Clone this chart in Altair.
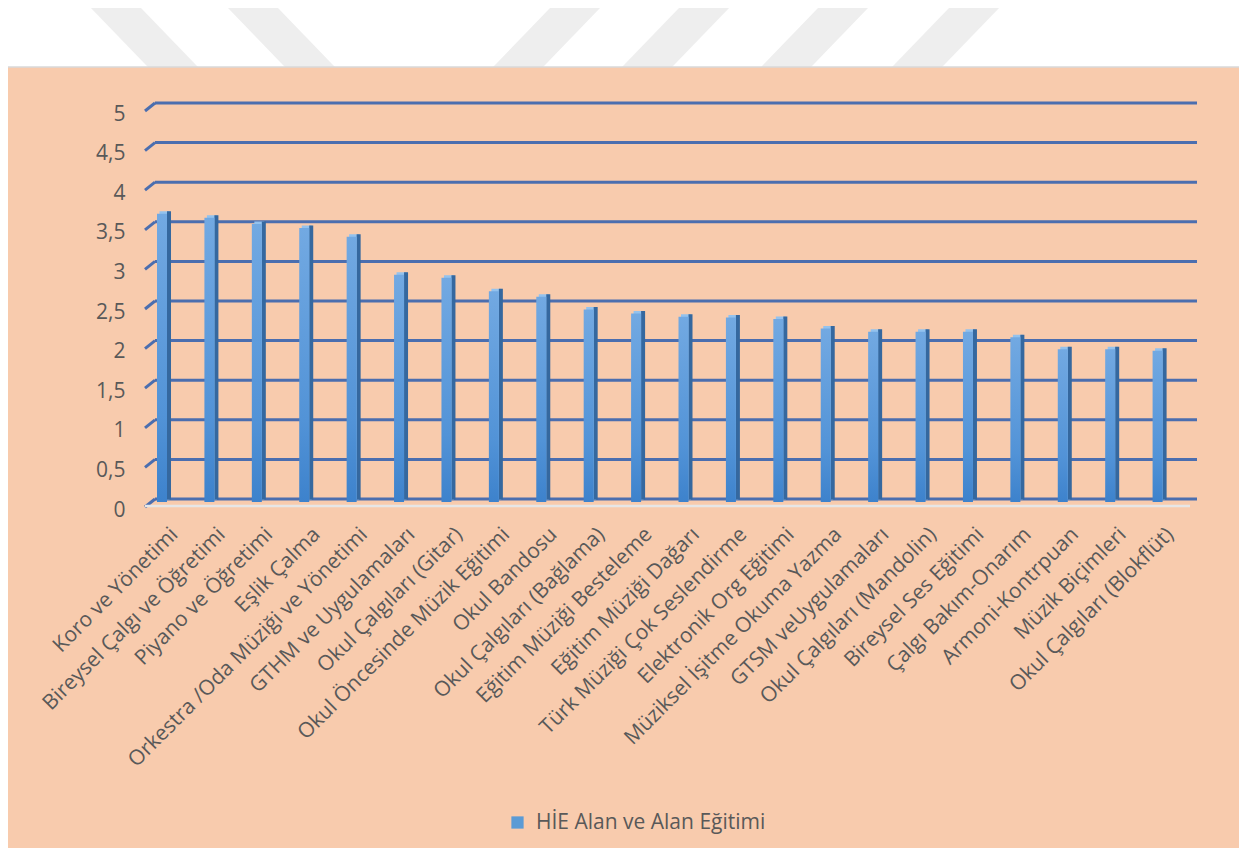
import altair as alt
import pandas as pd

# ---------------- data ----------------
categories = [
    "Koro ve Yönetimi",
    "Bireysel Çalgı ve Öğretimi",
    "Piyano ve Öğretimi",
    "Eşlik Çalma",
    "Orkestra /Oda Müziği ve Yönetimi",
    "GTHM ve Uygulamaları",
    "Okul Çalgıları (Gitar)",
    "Okul Öncesinde Müzik Eğitimi",
    "Okul Bandosu",
    "Okul Çalgıları (Bağlama)",
    "Eğitim Müziği Besteleme",
    "Eğitim Müziği Dağarı",
    "Türk Müziği Çok Seslendirme",
    "Elektronik Org Eğitimi",
    "Müziksel İşitme Okuma Yazma",
    "GTSM veUygulamaları",
    "Okul Çalgıları (Mandolin)",
    "Bireysel Ses Eğitimi",
    "Çalgı Bakım-Onarım",
    "Armoni-Kontrpuan",
    "Müzik Biçimleri",
    "Okul Çalgıları (Blokflüt)",
]
values = [3.64, 3.59, 3.51, 3.46, 3.35, 2.87, 2.83, 2.66, 2.59, 2.43, 2.38,
          2.34, 2.33, 2.31, 2.19, 2.15, 2.15, 2.15, 2.08, 1.93, 1.93, 1.91]
series_name = "HİE Alan ve Alan Eğitimi"
y_ticks = [0, 0.5, 1, 1.5, 2, 2.5, 3, 3.5, 4, 4.5, 5]

# ---------------- layout ----------------
PAD_L, PAD_T = 131, 98
W, H = 1043, 396
TOTAL_W, TOTAL_H = 1231, 840
PAD_R = TOTAL_W - PAD_L - W
PAD_B = TOTAL_H - PAD_T - H


def px(x):
    return x - 8 - PAD_L


def py(y):
    return y - 8 - PAD_T


FONT = "Open Sans"
TXT = "#595959"
GRID = "#4B6EAF"
PEACH = "#F8CBAD"

df = pd.DataFrame({"kategori": categories, "deger": values,
                   "seri": [series_name] * len(categories)})
grid_df = pd.DataFrame({"deger": y_ticks})
one = pd.DataFrame({"k": [0]})

yaxis = alt.Axis(
    title=None, values=y_ticks, grid=False, domain=False, ticks=False, tickSize=0,
    labelFont=FONT, labelFontSize=21, labelColor=TXT, labelPadding=14,
    labelOffset=8, zindex=1,
    labelExpr="replace(format(datum.value, ''), '.', ',')",
)
xaxis = alt.Axis(
    title=None, grid=False, domain=False, ticks=False, tickSize=0,
    labelFont=FONT, labelFontSize=21, labelColor=TXT, labelAngle=-45,
    labelAlign="right", labelBaseline="middle", labelPadding=29,
    labelOffset=12, labelLimit=0, zindex=1,
)
yscale = alt.Scale(domain=[0, 5], nice=False, zero=True)
xenc = alt.X("kategori:N", sort=categories,
             scale=alt.Scale(paddingInner=0, paddingOuter=0), axis=xaxis)
yenc = alt.Y("deger:Q", scale=yscale, axis=yaxis)

# ---------------- decorations ----------------
layers = []
s = 56 / 58
stripes = [(115, 1), (252, 1), (576, -1), (705, -1), (844, -1), (975, -1)]
for xt, d in stripes:
    xa = xt + (-12 - 7) * s * d
    xb = xt + (85 - 7) * s * d
    layers.append(
        alt.Chart(one).mark_rule(color="#EEEEEE", strokeWidth=36, strokeCap="butt")
        .encode(x=alt.value(px(xa)), x2=alt.value(px(xb)),
                y=alt.value(py(-12)), y2=alt.value(py(85)))
    )

panel = alt.Chart(one).mark_rect(fill=PEACH, stroke="#D9D9D9", strokeWidth=1.5).encode(
    x=alt.value(px(7)), x2=alt.value(px(1260)),
    y=alt.value(py(67)), y2=alt.value(py(900)),
)
layers.append(panel)

gridlines = alt.Chart(grid_df).mark_rule(color=GRID, strokeWidth=3, yOffset=-3).encode(
    y=yenc, x=alt.value(px(155)), x2=alt.value(px(1197)),
)
diag = alt.Chart(grid_df).mark_point(
    shape="M -1 0.8 L 1 -0.8", filled=False, strokeWidth=3, color=GRID,
    size=100, opacity=1, yOffset=1,
).encode(y=yenc, x=alt.value(px(150)))
floor = alt.Chart(one).mark_rule(color="#E6E6E6", strokeWidth=2.5).encode(
    x=alt.value(px(145)), x2=alt.value(px(1190)), y=alt.value(py(506)),
)
layers += [gridlines, diag, floor]

# ---------------- bars (3D look) ----------------
cap = alt.Chart(df).mark_bar(width=10, xOffset=1.8, yOffset=-2.5, color="#93C2EE").encode(
    x=xenc, y=yenc)
side = alt.Chart(df).mark_bar(width=4, xOffset=6.3, yOffset=-2.5, color="#35689F").encode(
    x=xenc, y=yenc)
front = alt.Chart(df).mark_bar(
    width=10, xOffset=-0.7,
    color=alt.Gradient(
        gradient="linear",
        stops=[alt.GradientStop(color="#72A9E2", offset=0),
               alt.GradientStop(color="#5293D7", offset=0.7),
               alt.GradientStop(color="#3D82CC", offset=1)],
        x1=0, x2=0, y1=0, y2=1,
    ),
).encode(x=xenc, y=yenc)

legend_layer = alt.Chart(df).mark_bar(opacity=0, width=1).encode(
    x=xenc, y=yenc,
    color=alt.Color("seri:N", scale=alt.Scale(range=["#5B9BD5"]),
                    legend=alt.Legend(
                        title=None, orient="none",
                        legendX=px(507), legendY=py(812),
                        symbolType="square", symbolSize=150, symbolOpacity=1,
                        symbolStrokeWidth=0, labelFont=FONT, labelFontSize=21,
                        labelColor=TXT, labelOffset=8, labelLimit=0,
                        padding=0, zindex=1,
                    )),
)
layers += [cap, side, front, legend_layer]

chart = alt.layer(*layers).properties(
    width=W, height=H,
    autosize=alt.AutoSizeParams(type="none"),
    padding={"left": PAD_L, "top": PAD_T, "right": PAD_R, "bottom": PAD_B},
    background="white",
).configure_view(stroke=None)

chart.save("out.html", embed_options={"renderer": "svg", "actions": False})
